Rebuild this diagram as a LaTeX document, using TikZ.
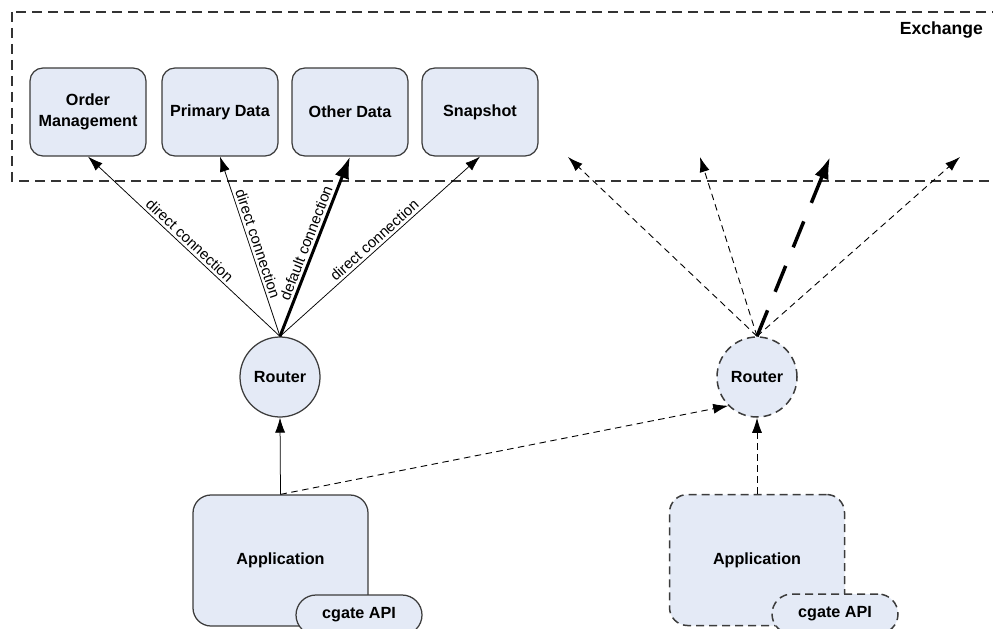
\documentclass[tikz,border=0pt]{standalone}
\usepackage{fontspec}
\setmainfont{Liberation Sans}
\usetikzlibrary{arrows.meta,calc,positioning}
\definecolor{boxFill}{HTML}{E4EAF6}
\definecolor{boxLine}{HTML}{3C3C3C}
\definecolor{frameLine}{HTML}{333333}
\newcommand{\boxfont}{\fontsize{9.2}{11.9}\selectfont\bfseries}
\tikzset{
  >={Latex[length=3mm,width=2mm]},
  module/.style={draw=boxLine,fill=boxFill,line width=0.25mm,rounded corners=2.6mm,
    minimum width=23.2mm,minimum height=17.6mm,align=center,font=\boxfont},
  router/.style={circle,draw=boxLine,fill=boxFill,line width=0.25mm,minimum size=16mm,inner sep=0pt,font=\boxfont},
  appBox/.style={draw=boxLine,fill=boxFill,line width=0.25mm,rounded corners=3.6mm,
    minimum width=35mm,minimum height=26.2mm,font=\boxfont},
  apiPill/.style={draw=boxLine,fill=boxFill,line width=0.25mm,rounded corners=4mm,
    minimum width=25.2mm,minimum height=8mm,font=\boxfont},
  ghostLine/.style={line width=0.3mm,dash pattern=on 1.6mm off 1mm},
  link/.style={->,line width=0.15mm},
  defaultLink/.style={-{Latex[length=4.4mm,width=3mm]},line width=0.6mm},
  ghostLink/.style={->,line width=0.18mm,dash pattern=on 1.3mm off 0.9mm},
  ghostDefault/.style={-{Latex[length=4.4mm,width=3mm]},line width=0.7mm,dash pattern=on 5.6mm off 4mm},
  connLabel/.style={sloped,midway,above,inner sep=1.5pt,font=\fontsize{8.5}{10}\selectfont},
}

\begin{document}
\begin{tikzpicture}[x=0.2mm,y=-0.2mm]

\useasboundingbox (0,0) rectangle (993,629);

% ===== Exchange =====
\draw[frameLine,line width=0.25mm,dash pattern=on 2mm off 1.2mm] (12,12) rectangle (1010,181);
\node[anchor=east,font=\fontsize{10}{12}\selectfont\bfseries] (exchangeLbl) at (989,30) {Exchange};

\foreach \name/\txt/\x in {ordMgmt/{Order\\Management}/88,priData/{Primary Data}/220,othData/{Other Data}/350,snap/{Snapshot}/480} {
  \node[module] (\name) at (\x,112) {\txt};
}

% ===== Routers =====
\node[router] (routerL) at (280,377) {Router};
\node[router,ghostLine] (routerR) at (757,377) {Router};

% ghost targets (no modules drawn for the second router)
\foreach \name/\x in {gOrd/568,gPri/700,gOth/830,gSnap/960} {
  \coordinate (\name) at (\x,157);
}

% ===== Applications =====
\node[appBox] (appL) at (280.5,560.5) {Application};
\node[apiPill] (apiL) at (359,615) {cgate API};
\node[appBox,ghostLine] (appR) at (757,560) {Application};
\node[apiPill,ghostLine] (apiR) at (835,614) {cgate API};

% ===== Connections =====
\foreach \name in {ordMgmt,priData,snap} {
  \draw[link] (routerL.north) -- (\name.south) node[connLabel] {direct connection};
}
\draw[defaultLink] (routerL.north) -- (othData.south) node[connLabel] {default connection};

\foreach \name in {gOrd,gPri,gSnap} {\draw[ghostLink] (routerR.north) -- (\name);}
\draw[ghostDefault] (routerR.north) -- (gOth);

\draw[link] (appL.north) -- (routerL.south);
\draw[ghostLink] (appL.north) -- (routerR.225);
\draw[ghostLink] (appR.north) -- (routerR.south);

\end{tikzpicture}
\end{document}
